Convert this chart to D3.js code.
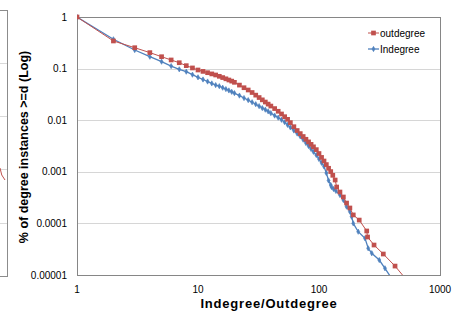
<!DOCTYPE html>
<meta charset="utf-8">
<head>
<script src="https://d3js.org/d3.v7.min.js"></script>
<style>
    body { margin: 0; background: #fff; }
    text { font-family: "Liberation Sans", Arial, sans-serif; }
    .tick-label { font-size: 10px; fill: #000; }
    .axis-title { font-weight: bold; fill: #000; }
    .legend-label { font-size: 10px; fill: #000; }
</style>
</head>
<body>
<svg id="chart" width="458" height="314"></svg>

<script>
    // ---- data ----
    var xTicks = [1, 10, 100, 1000];
    var yTicks = [1, 0.1, 0.01, 0.001, 0.0001, 0.00001];
    var yTickLabels = ["1", "0.1", "0.01", "0.001", "0.0001", "0.00001"];

    // outdegree (red squares)
    var outDegree = [1, 2, 3, 4, 5, 6, 7, 8, 9, 10,
      11, 12, 13, 14, 15, 16, 17, 18, 19, 20, 22, 24, 26, 28, 30, 32, 34, 36, 38, 40,
      43, 46, 49, 52, 55, 58, 62, 66, 70, 74, 78, 82, 86, 90, 95, 100, 105, 110, 115, 120, 125, 130,
      136, 140, 149, 159, 169, 180, 192, 215, 248, 252, 285, 340, 425, 519];
    var outFraction = [1, 0.343, 0.254, 0.204, 0.170, 0.147, 0.130, 0.114, 0.103, 0.094,
      0.0883, 0.0833, 0.0789, 0.0752, 0.0709, 0.0670, 0.0634, 0.0601, 0.0572, 0.0542,
      0.0479, 0.0426, 0.0385, 0.0344, 0.0306, 0.0275, 0.0248, 0.0225, 0.0205, 0.0188,
      0.0168, 0.0149, 0.0132, 0.0117, 0.0104, 0.00898, 0.00748, 0.00631, 0.00550, 0.00483,
      0.00427, 0.00380, 0.00340, 0.00305, 0.00269, 0.00226, 0.00190, 0.00162, 0.00138, 0.00117,
      0.00101, 0.000855,
      0.000693, 0.000507, 0.000406, 0.000325, 0.000248, 0.000199, 0.000146, 0.000116,
      0.0000713, 0.0000545, 0.0000381, 0.0000255, 0.0000149, 0.0000085];

    // indegree (blue)
    var inDegree = [1, 2, 3, 4, 5, 6, 7, 8, 9, 10,
      11, 12, 13, 14, 15, 16, 17, 18, 19, 20, 22, 24, 26, 28, 30, 32, 34, 36, 38, 40,
      43, 46, 49, 52, 55, 58, 62, 66, 70, 74, 78, 82, 86, 90, 95, 100, 105, 110, 115, 120, 125,
      127, 132, 138, 149, 159, 169, 180, 186, 192, 211, 240, 255, 273, 315, 351, 401];
    var inFraction = [1, 0.370, 0.229, 0.170, 0.136, 0.112, 0.0969, 0.0871, 0.0762, 0.0678,
      0.0615, 0.0562, 0.0516, 0.0479, 0.0456, 0.0426, 0.0401, 0.0377, 0.0355, 0.0335,
      0.0300, 0.0269, 0.0245, 0.0223, 0.0204, 0.0187, 0.0172, 0.0160, 0.0148, 0.0137,
      0.0123, 0.0112, 0.0102, 0.00915, 0.00811, 0.00725, 0.00631, 0.00552, 0.00485, 0.00419,
      0.00361, 0.00316, 0.00277, 0.00244, 0.00211, 0.00177, 0.00149, 0.00127, 0.000948, 0.000678,
      0.000555,
      0.000507, 0.000464, 0.000425, 0.000355, 0.000284, 0.000211, 0.000169, 0.000135, 0.000100,
      0.0000690, 0.0000514, 0.0000329, 0.0000264, 0.0000195, 0.0000135, 0.0000084];

    var series = [
      { name: "outdegree", x: outDegree, y: outFraction, color: "#C0504D", marker: "square" },
      { name: "Indegree", x: inDegree, y: inFraction, color: "#4F81BD", marker: "diamond" }
    ];

    // ---- layout ----
    var svg = d3.select("#chart");
    var plotLeft = 77, plotRight = 440, plotTop = 17, plotBottom = 275;

    var x = d3.scaleLog().domain([1, 1000]).range([plotLeft, plotRight]);
    var y = d3.scaleLog().domain([0.00001, 1]).range([plotBottom, plotTop]);

    // neighbouring chart cut off at the left edge
    var frag = svg.append("g");
    frag.append("rect").attr("x", -10).attr("y", 10.5).attr("width", 17.5).attr("height", 266)
      .attr("fill", "none").attr("stroke", "#8c8c8c").attr("stroke-width", 1);
    [63, 116, 169, 223].forEach(function(gy) {
      frag.append("line").attr("x1", -10).attr("x2", 7).attr("y1", gy + 0.5).attr("y2", gy + 0.5)
        .attr("stroke", "#d9d9d9");
    });
    frag.append("path").attr("d", "M0,168 Q1,176 5,180")
      .attr("fill", "none").attr("stroke", "#C0504D").attr("stroke-width", 1);

    // gridlines
    svg.append("g").selectAll("line")
      .data(yTicks.slice(1, -1))
      .enter().append("line")
      .attr("x1", plotLeft).attr("x2", plotRight)
      .attr("y1", function(d) { return Math.round(y(d)) + 0.5; })
      .attr("y2", function(d) { return Math.round(y(d)) + 0.5; })
      .attr("stroke", "#d6d6d6").attr("stroke-width", 1);

    // plot area border
    svg.append("rect")
      .attr("x", plotLeft + 0.5).attr("y", plotTop + 0.5)
      .attr("width", plotRight - plotLeft).attr("height", plotBottom - plotTop)
      .attr("fill", "none").attr("stroke", "#868686").attr("stroke-width", 1);

    // tick labels
    svg.append("g").selectAll("text")
      .data(yTicks)
      .enter().append("text")
      .attr("class", "tick-label")
      .attr("x", 67)
      .attr("y", function(d) { return y(d) + 3.5; })
      .attr("text-anchor", "end")
      .text(function(d, i) { return yTickLabels[i]; });

    svg.append("g").selectAll("text")
      .data(xTicks)
      .enter().append("text")
      .attr("class", "tick-label")
      .attr("x", function(d) { return x(d); })
      .attr("y", 293)
      .attr("text-anchor", "middle")
      .text(function(d) { return d; });

    // axis titles
    svg.append("text")
      .attr("class", "axis-title")
      .attr("x", 269).attr("y", 308)
      .attr("text-anchor", "middle")
      .style("font-size", "13px")
      .style("letter-spacing", "0.8px")
      .text("Indegree/Outdegree");

    svg.append("text")
      .attr("class", "axis-title")
      .attr("transform", "translate(28,147) rotate(-90)")
      .attr("text-anchor", "middle")
      .style("font-size", "12.5px")
      .text("% of degree instances >=d (Log)");

    // clip to plot area
    svg.append("clipPath").attr("id", "plot-clip")
      .append("rect").attr("x", plotLeft).attr("y", plotTop - 4)
      .attr("width", plotRight - plotLeft + 4).attr("height", plotBottom - plotTop + 4);

    var plot = svg.append("g").attr("clip-path", "url(#plot-clip)");

    var line = d3.line()
      .x(function(d) { return x(d[0]); })
      .y(function(d) { return y(d[1]); });

    var squareSym = d3.symbol().type(d3.symbolSquare).size(22);
    var diamondSym = d3.symbol().type(d3.symbolDiamond).size(8);

    // draw indegree first, outdegree on top
    series.slice().reverse().forEach(function(s) {
      var pts = s.x.map(function(d, i) { return [d, s.y[i]]; });
      plot.append("path")
        .datum(pts)
        .attr("d", line)
        .attr("fill", "none")
        .attr("stroke", s.color)
        .attr("stroke-width", s.marker === "square" ? 1 : 1.3);
      plot.append("g").selectAll("path")
        .data(pts)
        .enter().append("path")
        .attr("transform", function(d) { return "translate(" + x(d[0]) + "," + y(d[1]) + ")"; })
        .attr("d", s.marker === "square" ? squareSym : diamondSym)
        .attr("fill", s.color)
        .attr("stroke", s.color)
        .attr("stroke-width", s.marker === "square" ? 0 : 0.6);
    });

    // legend
    var legend = svg.append("g");
    series.forEach(function(s, i) {
      var ly = 33 + i * 16;
      legend.append("line")
        .attr("x1", 368).attr("x2", 379).attr("y1", ly).attr("y2", ly)
        .attr("stroke", s.color).attr("stroke-width", s.marker === "square" ? 1 : 1.3);
      legend.append("path")
        .attr("transform", "translate(373.5," + ly + ")")
        .attr("d", s.marker === "square" ? squareSym : diamondSym)
        .attr("fill", s.color).attr("stroke", s.color)
        .attr("stroke-width", s.marker === "square" ? 0 : 0.6);
      legend.append("text")
        .attr("class", "legend-label")
        .attr("x", 380).attr("y", ly + 3.5)
        .text(s.name);
    });
</script>
</body>
